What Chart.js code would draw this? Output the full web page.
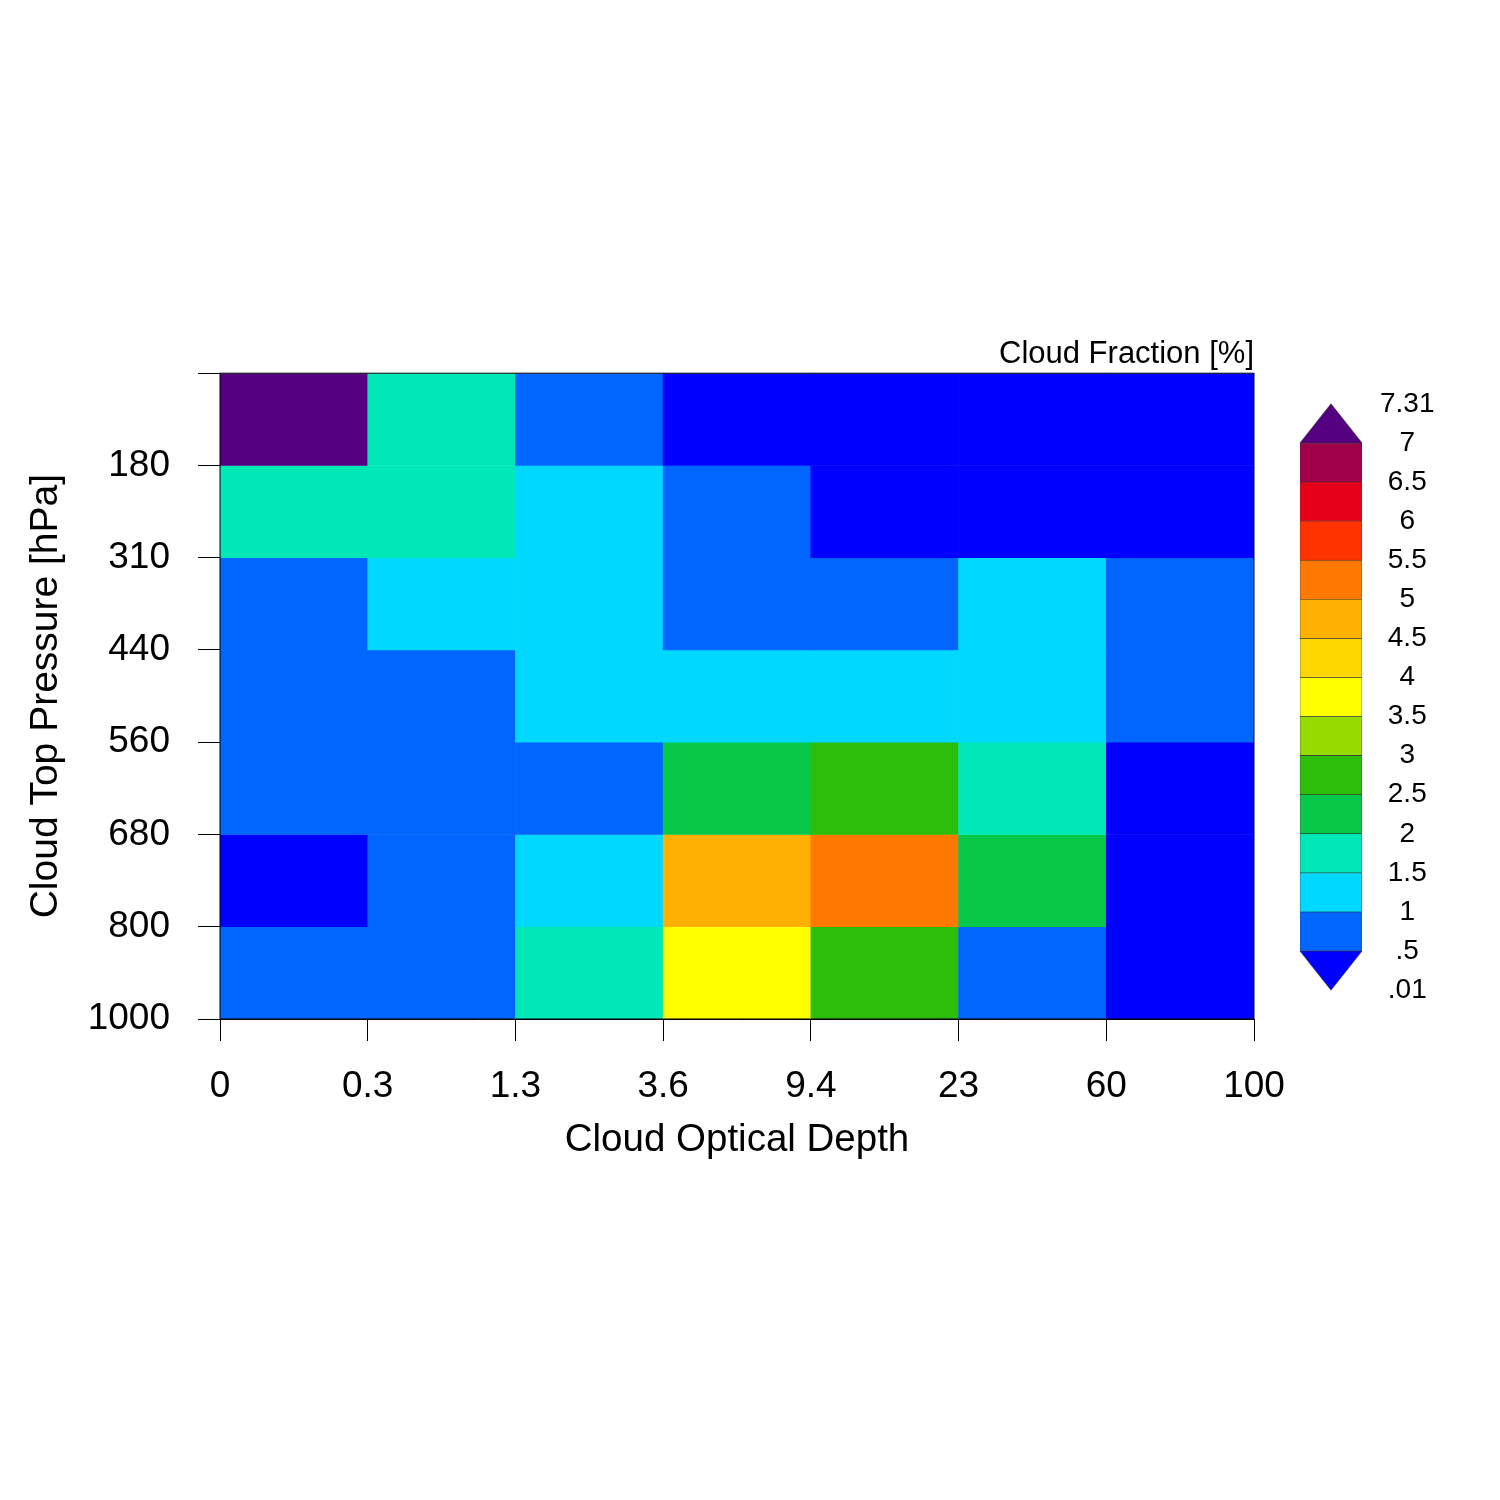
<!DOCTYPE html>
<html>
<head>
<meta charset="utf-8">
<title>Cloud Fraction</title>
<script src="https://cdn.jsdelivr.net/npm/chart.js@4"></script>
<style>
    body { margin: 0; background: #fff; }
    #page { position: relative; width: 1500px; height: 1500px; }
    #heatmap { position: absolute; left: 0; top: 0; }
    #colorbar { position: absolute; left: 1290px; top: 369px; }
</style>
</head>
<body>
<div id="page">
    <canvas id="heatmap" width="1500" height="1500"></canvas>
    <canvas id="colorbar" width="200" height="656"></canvas>
</div>
<script>
// Optical depth bins (columns) and pressure bins (rows, top to bottom)
const depthBins = ['0-0.3', '0.3-1.3', '1.3-3.6', '3.6-9.4', '9.4-23', '23-60', '60-100'];
const depthTickLabels = ['0', '0.3', '1.3', '3.6', '9.4', '23', '60', '100'];
const pressureTickLabels = ['', '180', '310', '440', '560', '680', '800', '1000'];

// Cloud fraction [%], one row per pressure bin (top row first)
const rowTop     = [7.31, 1.8, 0.7, 0.3, 0.2, 0.1, 0.05];
const row180     = [1.7, 1.6, 1.2, 0.6, 0.4, 0.3, 0.2];
const row310     = [0.8, 1.1, 1.3, 0.9, 0.8, 1.2, 0.7];
const row440     = [0.9, 0.9, 1.4, 1.3, 1.2, 1.1, 0.6];
const row560     = [0.8, 0.9, 0.9, 2.3, 2.8, 1.7, 0.4];
const row680     = [0.4, 0.7, 1.3, 4.8, 5.2, 2.2, 0.3];
const row800     = [0.6, 0.9, 1.9, 3.8, 2.6, 0.8, 0.2];
const cloudFraction = [rowTop, row180, row310, row440, row560, row680, row800];

// Colour levels
const levelBounds = [0.5, 1, 1.5, 2, 2.5, 3, 3.5, 4, 4.5, 5, 5.5, 6, 6.5, 7];
const levelLabels = ['.01', '.5', '1', '1.5', '2', '2.5', '3', '3.5', '4', '4.5', '5', '5.5', '6', '6.5', '7', '7.31'];
const levelColors = [
    '#0000ff', '#0066ff', '#00d8ff', '#00e8b8', '#08c84a', '#2dbe0c', '#96dc00',
    '#ffff00', '#ffd700', '#ffb000', '#ff7800', '#ff3300', '#e6001a', '#a0004a', '#550080'
];

const FONT = '"Liberation Sans", Arial, Helvetica, sans-serif';
Chart.defaults.font.family = FONT;
Chart.defaults.color = '#000';

function colorFor(v) {
    let i = 0;
    while (i < levelBounds.length && v >= levelBounds[i]) i++;
    return levelColors[i];
}

// Draw a thin frame round the plot area
const frame = {
    id: 'frame',
    afterDatasetsDraw(chart) {
        const { ctx, chartArea: a } = chart;
        ctx.save();
        ctx.strokeStyle = '#000';
        ctx.lineWidth = 1;
        ctx.strokeRect(a.left, a.top, a.right - a.left, a.bottom - a.top);
        ctx.restore();
    }
};

new Chart(document.getElementById('heatmap'), {
    type: 'bar',
    data: {
        labels: depthBins,
        datasets: cloudFraction.map((row, r) => ({
            data: row.map(() => [r, r + 1]),
            backgroundColor: row.map(colorFor),
            borderWidth: 0,
            barPercentage: 1,
            categoryPercentage: 1,
            xAxisID: 'cat',
            yAxisID: 'y'
        }))
    },
    options: {
        responsive: false,
        animation: false,
        layout: { padding: { left: 0, right: 246, top: 336, bottom: 337 } },
        plugins: {
            legend: { display: false },
            tooltip: { enabled: false },
            title: {
                display: true,
                text: 'Cloud Fraction [%]',
                align: 'end',
                color: '#000',
                font: { size: 31, weight: 'normal' },
                padding: { top: 0, bottom: 0 }
            }
        },
        scales: {
            cat: {
                type: 'category',
                position: 'bottom',
                display: false,
                stacked: true,
                offset: true
            },
            x: {
                type: 'linear',
                position: 'bottom',
                min: 0,
                max: 7,
                offset: false,
                grid: { offset: false, drawOnChartArea: false, drawTicks: true, tickLength: 22, color: '#000' },
                border: { display: true, color: '#000' },
                ticks: {
                    stepSize: 1,
                    maxTicksLimit: 20,
                    autoSkip: false,
                    maxRotation: 0,
                    padding: 24,
                    font: { size: 37 },
                    callback: v => depthTickLabels[v]
                },
                title: {
                    display: true,
                    text: 'Cloud Optical Depth',
                    font: { size: 38.5 },
                    padding: 0
                },
                afterFit: s => { s.height = 144; }
            },
            y: {
                type: 'linear',
                position: 'left',
                min: 0,
                max: 7,
                reverse: true,
                stacked: false,
                grid: { drawOnChartArea: false, drawTicks: true, tickLength: 22, color: '#000' },
                border: { display: true, color: '#000' },
                ticks: {
                    stepSize: 1,
                    maxTicksLimit: 20,
                    autoSkip: false,
                    padding: 28,
                    font: { size: 37 },
                    callback: v => pressureTickLabels[v]
                },
                title: {
                    display: true,
                    text: 'Cloud Top Pressure [hPa]',
                    font: { size: 39 },
                    padding: { top: 23, bottom: 0 }
                },
                afterFit: s => { s.width = 220; }
            }
        }
    },
    plugins: [frame]
});

// End triangles of the colour bar (below first level, above last level)
const triangles = {
    id: 'triangles',
    afterDatasetsDraw(chart) {
        const { ctx, chartArea: a, scales: { y } } = chart;
        const mid = (a.left + a.right) / 2;
        const tips = [
            [y.getPixelForValue(1), y.getPixelForValue(0), levelColors[0]],
            [y.getPixelForValue(levelLabels.length - 2), y.getPixelForValue(levelLabels.length - 1), levelColors[levelColors.length - 1]]
        ];
        ctx.save();
        tips.forEach(([base, tip, color]) => {
            ctx.beginPath();
            ctx.moveTo(a.left, base);
            ctx.lineTo(a.right, base);
            ctx.lineTo(mid, tip);
            ctx.closePath();
            ctx.fillStyle = color;
            ctx.fill();
            ctx.strokeStyle = '#333';
            ctx.lineWidth = 0.6;
            ctx.stroke();
        });
        ctx.restore();
    }
};

new Chart(document.getElementById('colorbar'), {
    type: 'bar',
    data: {
        labels: ['Cloud Fraction'],
        datasets: levelColors.slice(1, -1).map((c, i) => ({
            data: [[i + 1, i + 2]],
            backgroundColor: c,
            borderColor: '#333',
            borderWidth: 0.6,
            borderSkipped: false,
            barPercentage: 1,
            categoryPercentage: 1
        }))
    },
    options: {
        responsive: false,
        animation: false,
        layout: { padding: { left: 10, right: 0, top: 0, bottom: 0 } },
        plugins: {
            legend: { display: false },
            tooltip: { enabled: false }
        },
        scales: {
            x: { display: false, stacked: true },
            y: {
                position: 'right',
                min: 0,
                max: levelLabels.length - 1,
                stacked: false,
                grid: { display: false, drawTicks: false, tickLength: 0 },
                border: { display: false },
                ticks: {
                    stepSize: 1,
                    maxTicksLimit: 30,
                    autoSkip: false,
                    padding: 18,
                    crossAlign: 'center',
                    font: { size: 28 },
                    callback: v => levelLabels[v]
                },
                afterFit: s => { s.width = 128; }
            }
        }
    },
    plugins: [triangles]
});
</script>
</body>
</html>
